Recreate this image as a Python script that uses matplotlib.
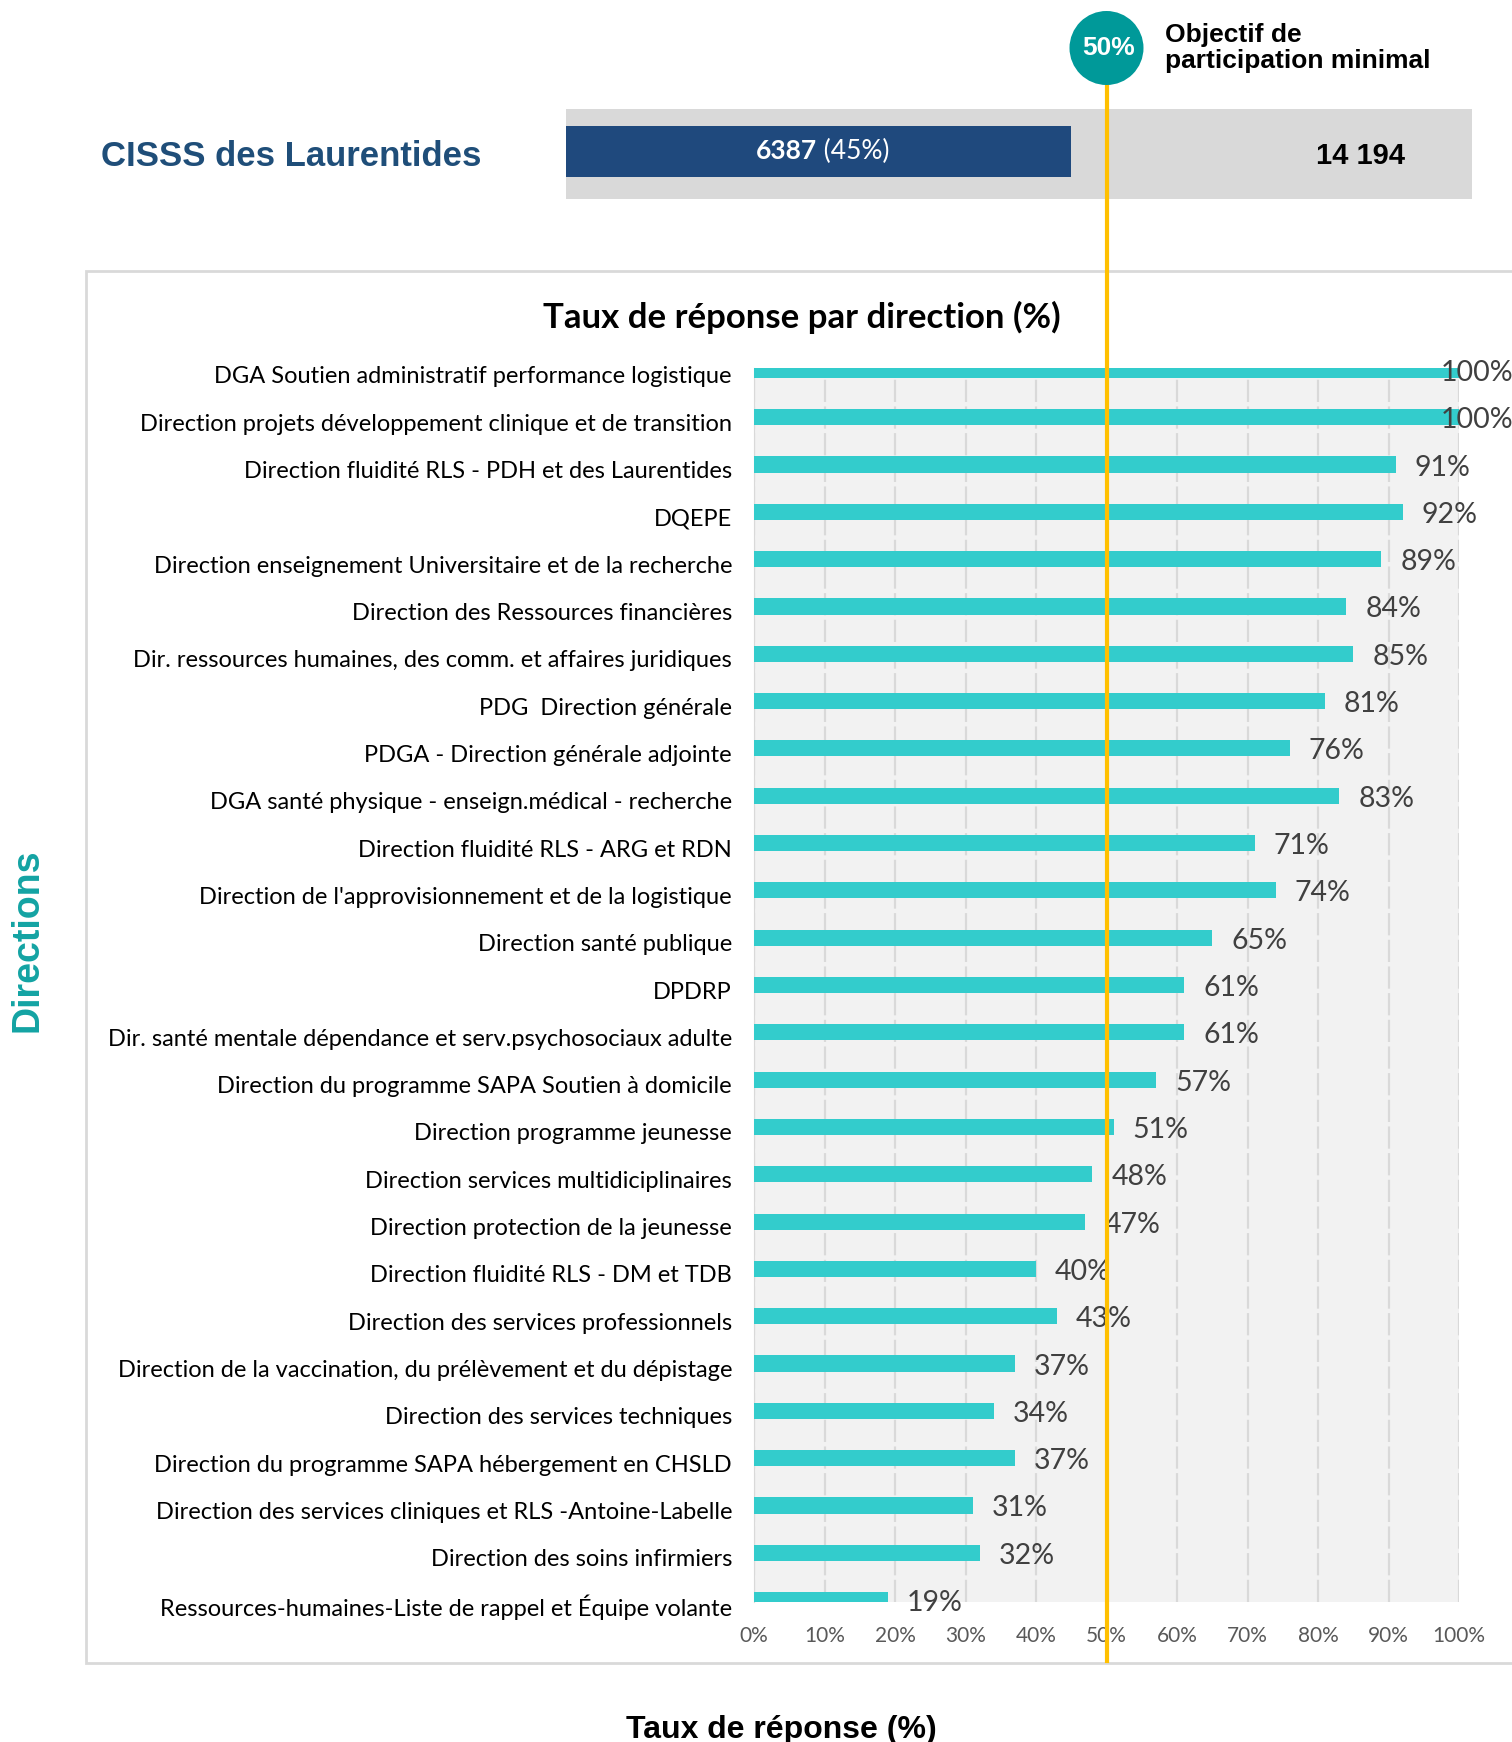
import matplotlib.pyplot as plt
import matplotlib.transforms as mtransforms
from matplotlib.patches import Rectangle, Ellipse
from matplotlib.lines import Line2D

# Données
directions = [
    "DGA Soutien administratif performance logistique",
    "Direction projets développement clinique et de transition",
    "Direction fluidité RLS - PDH et des Laurentides",
    "DQEPE",
    "Direction enseignement Universitaire et de la recherche",
    "Direction des Ressources financières",
    "Dir. ressources humaines, des comm. et affaires juridiques",
    "PDG  Direction générale",
    "PDGA - Direction générale adjointe",
    "DGA santé physique - enseign.médical - recherche",
    "Direction fluidité RLS - ARG et RDN",
    "Direction de l'approvisionnement et de la logistique",
    "Direction santé publique",
    "DPDRP",
    "Dir. santé mentale dépendance et serv.psychosociaux adulte",
    "Direction du programme SAPA Soutien à domicile",
    "Direction programme jeunesse",
    "Direction services multidiciplinaires",
    "Direction protection de la jeunesse",
    "Direction fluidité RLS - DM et TDB",
    "Direction des services professionnels",
    "Direction de la vaccination, du prélèvement et du dépistage",
    "Direction des services techniques",
    "Direction du programme SAPA hébergement en CHSLD",
    "Direction des services cliniques et RLS -Antoine-Labelle",
    "Direction des soins infirmiers",
    "Ressources-humaines-Liste de rappel et Équipe volante",
]
taux = [100, 100, 91, 92, 89, 84, 85, 81, 76, 83, 71, 74, 65, 61, 61, 57,
        51, 48, 47, 40, 43, 37, 34, 37, 31, 32, 19]
x_ticks = [0, 10, 20, 30, 40, 50, 60, 70, 80, 90, 100]

repondants = 6387
taux_global = 45
effectif_total = "14 194"
objectif = 50

W, H = 1512, 1742
fig = plt.figure(figsize=(W / 100, H / 100), dpi=100)
fig.patch.set_facecolor("white")

# cadre du graphique
fig.add_artist(Rectangle((86 / W, 1 - 1663 / H), 1.0, (1663 - 271) / H,
                         transform=fig.transFigure, facecolor="white",
                         edgecolor="#d9d9d9", linewidth=2, zorder=0))

ax = fig.add_axes([754 / W, 1 - 1602 / H, 705 / W, (1602 - 368) / H])
ax.set_facecolor("#f2f2f2")
pos = list(range(len(directions)))
ax.barh(pos, taux, height=0.34, color="#33cccc", zorder=3)
ax.set_xlim(0, 100)
ax.set_ylim(len(directions) - 1 + 0.04, -0.04)
ax.set_yticks(pos)
ax.set_yticklabels([])
# étiquettes des catégories (légèrement sous le centre de la barre, comme Excel)
for p, name in zip(pos, directions):
    ax.annotate(name, (0, p), xycoords=ax.get_yaxis_transform(), xytext=(-22, -7),
                textcoords="offset pixels", ha="right", va="center", fontsize=17,
                family="Lato", color="black", annotation_clip=False)
ax.set_xticks(x_ticks)
ax.set_xticklabels([f"{t}%" for t in x_ticks], fontsize=15, family="Lato", color="#595959")
ax.tick_params(axis="y", length=0)
ax.tick_params(axis="x", length=0, pad=17)
ax.grid(axis="x", color="#d9d9d9", linewidth=1.6, linestyle=(0, (10, 2)), zorder=1)
for s in ["top", "right", "bottom"]:
    ax.spines[s].set_visible(False)
ax.spines["left"].set_color("#d9d9d9")

for p, v in zip(pos, taux):
    if v >= 99:
        ax.annotate(f"{v}%", (v, p), xytext=(54, -3), textcoords="offset pixels",
                    ha="right", va="center", fontsize=20.5, family="Lato",
                    color="#404040", annotation_clip=False, zorder=5)
    else:
        ax.annotate(f"{v}%", (v, p), xytext=(19, -3), textcoords="offset pixels",
                    ha="left", va="center", fontsize=20.5, family="Lato",
                    color="#404040", annotation_clip=False, zorder=5)

fig.text(802 / W, 1 - 317 / H, "Taux de réponse par direction (%)", ha="center",
         va="center", fontsize=25, fontweight="bold", family="Lato")
fig.text(28 / W, 1 - 940 / H, "Directions", rotation=90, ha="center", va="center",
         fontsize=27, fontweight="bold", family="Liberation Sans", color="#13a3a3")
fig.text(781 / W, 1 - 1730 / H, "Taux de réponse (%)", ha="center", va="center",
         fontsize=23, fontweight="bold", family="Liberation Sans")

# bandeau du haut
top = fig.add_axes([566 / W, 1 - 199 / H, 906 / W, 90 / H])
top.set_facecolor("#d9d9d9")
top.set_xlim((566 - 754) / 7.05, (1472 - 754) / 7.05)
top.set_ylim(0, 1)
x0 = top.get_xlim()[0]
top.barh([0.528], [taux_global - x0], left=x0, height=0.567, color="#1f497d")
top.set_xticks([])
top.set_yticks([])
for s in top.spines.values():
    s.set_visible(False)
xc = (x0 + taux_global) / 2
top.text(xc - 0.3, 0.53, f"{repondants}", ha="right", va="center", color="white",
         fontsize=19, fontweight="bold", family="Lato")
top.text(xc - 0.3, 0.53, f" ({taux_global}%)", ha="left", va="center", color="white",
         fontsize=19, family="Lato")
top.text(86, 0.48, effectif_total, ha="center", va="center", fontsize=21,
         fontweight="bold", family="Liberation Sans")

fig.text(101 / W, 1 - 157 / H, "CISSS des Laurentides", ha="left", va="center",
         fontsize=25, fontweight="bold", family="Liberation Sans", color="#1f4e79")

# ligne d'objectif
blend = mtransforms.blended_transform_factory(ax.transData, fig.transFigure)
fig.add_artist(Line2D([objectif, objectif], [1 - 85 / H, 1 - 1661 / H],
                      transform=blend, color="#ffc000", linewidth=3, zorder=10))
fig.add_artist(Ellipse((objectif, 1 - 48 / H), 74 / 7.05, 74 / H, transform=blend,
                       facecolor="#009999", edgecolor="none", zorder=11))
fig.text(1109 / W, 1 - 48 / H, f"{objectif}%", ha="center", va="center",
         color="white", fontsize=19, fontweight="bold", family="Liberation Sans",
         zorder=12)
fig.text(1165 / W, 1 - 48 / H, "Objectif de\nparticipation minimal", ha="left",
         va="center", fontsize=19, fontweight="bold", family="Liberation Sans",
         linespacing=1.08)

fig.savefig("out.png", dpi=100)
